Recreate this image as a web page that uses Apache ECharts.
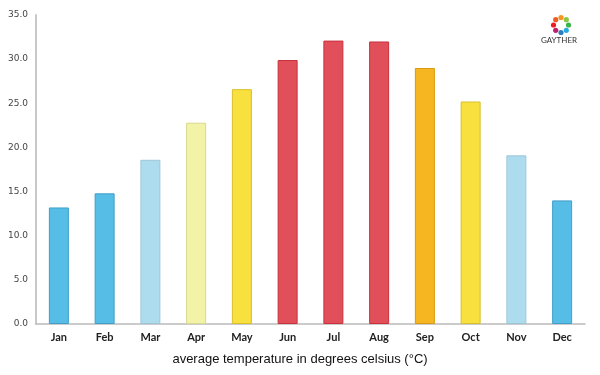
<!DOCTYPE html>
<html>
<head>
<meta charset="utf-8">
<script src="https://cdn.jsdelivr.net/npm/echarts@6/dist/echarts.min.js"></script>
<style>
  html, body { margin: 0; padding: 0; background: #fff; }
  #main { width: 600px; height: 375px; }
</style>
</head>
<body>
<div id="main"></div>
<script>
var months = ['Jan', 'Feb', 'Mar', 'Apr', 'May', 'Jun', 'Jul', 'Aug', 'Sep', 'Oct', 'Nov', 'Dec'];
var temps = [13.2, 14.8, 18.6, 22.8, 26.6, 29.9, 32.1, 32.0, 29.0, 25.2, 19.1, 14.0];
var barColors = ['#56bde6', '#56bde6', '#aedcef', '#f3f3a8', '#f8e03f', '#e04f5a', '#e04f5a', '#e04f5a', '#f5b622', '#f8e03f', '#aedcef', '#56bde6'];
var borderColors = ['#3f9fc8', '#3f9fc8', '#9cc6d8', '#d8d890', '#d8bf2a', '#c9303c', '#c9303c', '#c9303c', '#d89a10', '#d8bf2a', '#9cc6d8', '#3f9fc8'];
var yTicks = { min: 0, max: 35, interval: 5 };

var chart = echarts.init(document.getElementById('main'));

// little ring logo in the corner
var logoCols = ['#f7941d', '#8dc63f', '#39b54a', '#27aae1', '#2e7fc1', '#be1e6d', '#ed1c24', '#f15a24'];
var logo = [];
for (var i = 0; i < logoCols.length; i++) {
    var a = i / logoCols.length * Math.PI * 2 - Math.PI / 2;
    logo.push({
        type: 'circle',
        shape: { cx: 561 + Math.cos(a) * 7.5, cy: 25 + Math.sin(a) * 7.5, r: 2.6 },
        style: { fill: logoCols[i] }
    });
}
logo.push({
    type: 'text',
    x: 559, y: 36,
    style: { text: 'GAYTHER', fill: '#333', font: '8px "Lato"', align: 'center' }
});

var option = {
    animation: false,
    backgroundColor: '#fff',
    title: {
        text: 'average temperature in degrees celsius (°C)',
        left: 'center',
        top: 348,
        textStyle: { fontFamily: 'Liberation Sans', fontWeight: 'normal', fontSize: 13, color: '#111' }
    },
    grid: { left: 36, right: 15, top: 15, bottom: 51 },
    xAxis: {
        type: 'category',
        data: months,
        axisLine: { lineStyle: { color: '#bbb', width: 1.5 } },
        axisTick: { show: false },
        axisLabel: { color: '#222', fontSize: 11, fontWeight: 'bold', fontFamily: 'Lato', margin: 8 }
    },
    yAxis: {
        type: 'value',
        min: yTicks.min,
        max: yTicks.max,
        interval: yTicks.interval,
        axisLine: { show: true, lineStyle: { color: '#c8c8c8', width: 2 } },
        axisTick: { show: false },
        splitLine: { show: false },
        axisLabel: {
            color: '#444', fontSize: 9, fontFamily: 'DejaVu Sans', margin: 8,
            formatter: function (v) { return v.toFixed(1); }
        }
    },
    series: [{
        type: 'bar',
        barWidth: 20,
        data: temps.map(function (v, i) {
            return { value: v, itemStyle: { color: barColors[i], borderColor: borderColors[i], borderWidth: 1 } };
        })
    }],
    graphic: logo
};

chart.setOption(option);
</script>
</body>
</html>
